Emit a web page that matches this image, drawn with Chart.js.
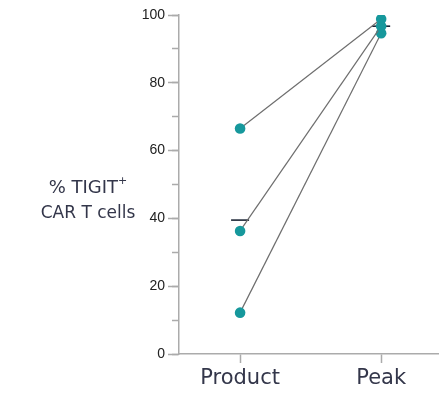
<!DOCTYPE html>
<html>
<head>
<meta charset="utf-8">
<style>
  html, body { margin: 0; padding: 0; background: #fff; }
  #chart { display: block; }
</style>
<script src="https://cdn.jsdelivr.net/npm/chart.js@4/dist/chart.umd.min.js"></script>
</head>
<body>
<canvas id="chart" width="439" height="395"></canvas>
<script>
// data
var categories = ["Product", "Peak"];
var productValues = [66.5, 36.3, 12.2];
var peakValues = [98.8, 96.7, 94.6];
var meanValues = [39.5, 96.7];
var yTicks = [0, 20, 40, 60, 80, 100];
var yMinorTicks = [0, 10, 20, 30, 40, 50, 60, 70, 80, 90, 100];

var teal = "#16989c";
var axisColor = "#ababab";
var labelFont = "'DejaVu Sans', sans-serif";

var datasets = [];
for (var i = 0; i < productValues.length; i++) {
  datasets.push({
    data: [{x: 0, y: productValues[i]}, {x: 1, y: peakValues[i]}],
    showLine: true,
    borderColor: "#6e6e6e",
    borderWidth: 1.2,
    pointRadius: 5.3,
    pointBackgroundColor: teal,
    pointBorderWidth: 0
  });
}
datasets.push({
  data: meanValues.map(function(v, k) { return {x: k, y: v}; }),
  showLine: false,
  pointStyle: "line",
  pointRadius: 9,
  borderColor: "#1c2535",
  borderWidth: 1.6
});

// y axis title, written horizontally left of the axis
var yTitle = {
  id: "yTitle",
  afterDraw: function(chart) {
    var ctx = chart.ctx;
    var cx = chart.chartArea.left - 91;
    ctx.save();
    ctx.fillStyle = "#33364a";
    ctx.textBaseline = "middle";
    ctx.font = "18px " + labelFont;
    var t1 = "% TIGIT";
    var w1 = ctx.measureText(t1).width;
    ctx.font = "11px " + labelFont;
    var wp = ctx.measureText("+").width;
    var x1 = cx - (w1 + wp) / 2;
    ctx.font = "18px " + labelFont;
    ctx.textAlign = "left";
    ctx.fillText(t1, x1, 188);
    ctx.font = "11px " + labelFont;
    ctx.fillText("+", x1 + w1, 181);
    ctx.font = "17px " + labelFont;
    ctx.textAlign = "center";
    ctx.fillText("CAR T cells", cx, 214);
    ctx.restore();
  }
};

new Chart(document.getElementById("chart"), {
  type: "scatter",
  data: { datasets: datasets },
  plugins: [yTitle],
  options: {
    responsive: false,
    animation: false,
    layout: { autoPadding: false, padding: { top: 15, right: 0, bottom: 0, left: 0 } },
    plugins: { legend: { display: false }, tooltip: { enabled: false } },
    scales: {
      x: {
        type: "linear",
        min: -0.433,
        max: 1.41,
        afterBuildTicks: function(scale) {
          scale.ticks = categories.map(function(c, k) { return {value: k}; });
        },
        afterFit: function(scale) {
          scale.height = 41;
          scale.paddingLeft = 0;
          scale.paddingRight = 0;
        },
        ticks: {
          callback: function(v) { return categories[v]; },
          color: "#33364a",
          font: { family: labelFont, size: 21 },
          padding: 3
        },
        grid: { drawOnChartArea: false, tickLength: 9, color: axisColor, tickWidth: 1.5 },
        border: { color: axisColor, width: 1.5 }
      },
      y: {
        min: 0,
        max: 100,
        weight: 2,
        afterBuildTicks: function(scale) {
          scale.ticks = yTicks.map(function(v) { return {value: v}; });
        },
        afterFit: function(scale) { scale.width = 179; },
        ticks: {
          color: "#222222",
          font: { family: "'Liberation Sans', Arial, sans-serif", size: 14 },
          padding: 3
        },
        grid: { drawOnChartArea: false, tickLength: 11, color: axisColor, tickWidth: 1.5 },
        border: { color: axisColor, width: 1.5 }
      },
      yMinor: {
        position: "left",
        min: 0,
        max: 100,
        weight: 1,
        afterBuildTicks: function(scale) {
          scale.ticks = yMinorTicks.map(function(v) { return {value: v}; });
        },
        afterFit: function(scale) { scale.width = 0; },
        ticks: { display: false },
        grid: { drawOnChartArea: false, tickLength: 7, color: axisColor, tickWidth: 1.5 },
        border: { display: false }
      }
    }
  }
});
</script>
</body>
</html>
